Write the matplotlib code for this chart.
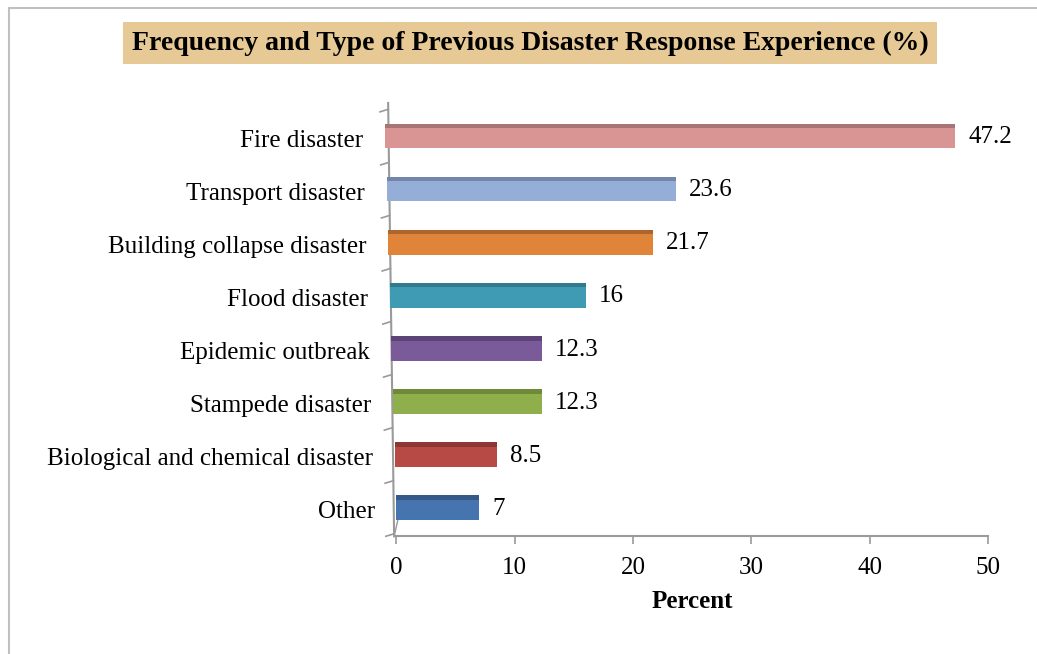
#!/usr/bin/env python3

# +
# import(s)
# -
import numpy as np
import matplotlib as mpl
mpl.use('Agg')
import matplotlib.pyplot as plt
import matplotlib.transforms as mtransforms
from matplotlib.lines import Line2D


# +
# data
# -
categories = ['Fire disaster', 'Transport disaster', 'Building collapse disaster', 'Flood disaster',
              'Epidemic outbreak', 'Stampede disaster', 'Biological and chemical disaster', 'Other']
values = [47.2, 23.6, 21.7, 16, 12.3, 12.3, 8.5, 7]
value_labels = ['47.2', '23.6', '21.7', '16', '12.3', '12.3', '8.5', '7']
x_ticks = [0, 10, 20, 30, 40, 50]
face_colors = ['#D99594', '#95AED8', '#E0843A', '#3F9BB3', '#7A5A98', '#8FAE4C', '#B84A46', '#4674AE']
top_colors = ['#A97574', '#7385A8', '#AE652C', '#2F7A8C', '#5C4477', '#6E8A38', '#8C3734', '#355A88']

TITLE = 'Frequency and Type of Previous Disaster Response Experience (%)'
GRAY = '#9A9A9A'

plt.rcParams['font.family'] = ['Liberation Serif', 'DejaVu Serif']

# +
# figure
# -
fig = plt.figure(figsize=(10.37, 6.54), dpi=100)
ax = fig.add_axes([0.382, 0.180, 0.571, 0.649])

n = len(categories)
ypos = np.arange(n)[::-1]
depth = np.arange(n)[::-1] / (n - 1)          # 1 for the back row, 0 for the front
lefts = -0.93 * depth                           # bars start on the slanted wall
widths = np.array(values) - lefts

bar_h = 0.38
top_h = 0.09
shift = 0.0
_b1 = ax.barh(ypos + shift, widths, left=lefts, height=bar_h, color=face_colors, edgecolor='none', zorder=3)
_b2 = ax.barh(ypos + shift + bar_h / 2 + top_h / 2, widths, left=lefts, height=top_h,
              color=top_colors, edgecolor='none', zorder=4)
for _p in list(_b1) + list(_b2):
    _p.set_clip_on(False)

for _y, _v, _s in zip(ypos, values, value_labels):
    ax.text(_v + 1.1, _y + 0.02, _s, va='center', ha='left', fontsize=18, color='black')

ax.set_xlim(0, 50)
ax.set_ylim(-0.5, n - 0.5)
ax.set_xticks(x_ticks)
ax.set_xticklabels([str(_t) for _t in x_ticks], fontsize=18)
ax.set_yticks(ypos)
ax.set_yticklabels(categories, fontsize=18)
ax.tick_params(axis='y', length=0, pad=24)
ax.tick_params(axis='x', length=6, color=GRAY, width=1.2, pad=9)
ax.set_xlabel('Percent', fontsize=18, fontweight='bold', labelpad=8)

# labels follow the slant of the wall
for _lab in ax.get_yticklabels():
    _y = _lab.get_position()[1]
    _off = (1.0 - _y / (n - 1)) * 12.0 / 100.0
    _lab.set_transform(_lab.get_transform() + mtransforms.ScaledTranslation(_off, 0, fig.dpi_scale_trans))

for _s in ['top', 'right', 'left']:
    ax.spines[_s].set_visible(False)
ax.spines['bottom'].set_color(GRAY)
ax.spines['bottom'].set_linewidth(1.5)

# slanted back wall axis with category ticks
trans = ax.transAxes
wall_top, wall_bot, wall_h = -0.0135, -0.0034, 1.021
ax.add_line(Line2D([wall_top, wall_bot], [wall_h, 0.0], transform=trans, color=GRAY, lw=1.5, clip_on=False))
ax.add_line(Line2D([wall_bot, 0.004], [0.0, 0.045], transform=trans, color=GRAY, lw=1.0, clip_on=False))
for _k in range(n + 1):
    _f = _k / n
    _x = wall_bot + (wall_top - wall_bot) * _f / wall_h
    ax.add_line(Line2D([_x - 0.014, _x], [_f, _f + 0.006], transform=trans, color=GRAY, lw=1.2, clip_on=False))

# title in parchment box
fig.text(0.511, 0.934, TITLE, ha='center', va='center', fontsize=20, fontweight='bold',
         bbox=dict(boxstyle='square,pad=0.3', facecolor='#E6C994', edgecolor='none'))

# chart border
fig.add_artist(Line2D([0.009, 1.0], [0.988, 0.988], transform=fig.transFigure, color='#C0C0C0', lw=1.5))
fig.add_artist(Line2D([0.009, 0.009], [0.0, 0.988], transform=fig.transFigure, color='#C0C0C0', lw=1.5))

plt.savefig('out.png', dpi=100)
